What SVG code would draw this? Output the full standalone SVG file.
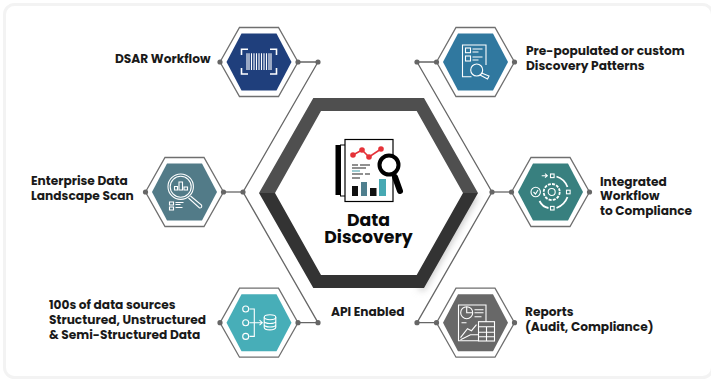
<svg xmlns="http://www.w3.org/2000/svg" width="711" height="379" viewBox="0 0 711 379">
<defs>
<filter id="soft" x="-20%" y="-20%" width="140%" height="140%"><feGaussianBlur stdDeviation="3.500"/></filter>
<polygon id="outer" points="-39,0 -19.500,-34.500 19.500,-34.500 39,0 19.500,34.500 -19.500,34.500"/>
<polygon id="inner" points="-32.500,0 -17.500,-28.500 17.500,-28.500 32.500,0 17.500,28.500 -17.500,28.500"/>
<g id="ends"><circle cx="-39" cy="0" r="2.600"/><circle cx="39" cy="0" r="2.600"/></g>
</defs>
<style>
text{font-family:"Poppins","Open Sans","Noto Sans",sans-serif;font-weight:700;font-size:12.2px;fill:#1a1a1a}
.o{fill:#fff;stroke:#6f6f6f;stroke-width:1.300}
.e{fill:#666}
.c{fill:none;stroke:#666;stroke-width:1.300}
.i{fill:none;stroke:#fff;stroke-width:1.100}
.t{font-size:17.300px;fill:#0a0a0a}
</style>
<rect x="0" y="0" width="711" height="379" fill="#fff"/>
<rect x="4.500" y="4.500" width="708" height="373" rx="10" fill="#fff" stroke="#f3f3f3" stroke-width="3"/>
<g id="connectors" class="c">
<path d="M298 62H318L243 192L318 322.700H298"/>
<path d="M223.500 192H243"/>
<path d="M436.500 62H417L492 192L417 322.700H436.500"/>
<path d="M492 192H511.500"/>
<g class="e" stroke="none"><circle cx="318" cy="62" r="2.600"/><circle cx="243" cy="192" r="2.600"/><circle cx="318" cy="322.700" r="2.600"/><circle cx="417" cy="62" r="2.600"/><circle cx="492" cy="192" r="2.600"/><circle cx="417" cy="322.700" r="2.600"/></g>
</g>
<g id="center">
<path fill="#bbb" filter="url(#soft)" d="M478 196L424 290H418L470 196Z"/>
<path fill="#4f4f4f" d="M259 193L313.300 98H424L478 193H463L416.700 111H321L275 193Z"/>
<path fill="#333" d="M259 193H275L321 275H416.700L463 193H478L424 288H313.300Z"/>
<rect x="335.500" y="145" width="5" height="50" fill="#000"/>
<rect x="340.500" y="145" width="5" height="51" fill="#fff" stroke="#000"/>
<rect x="345" y="139.500" width="48" height="62" fill="#fff" stroke="#000" stroke-width="1.200"/>
<path d="M353 155L362 150L369 157L381 149" fill="none" stroke="#e53238" stroke-width="1.600"/>
<g fill="#e53238"><circle cx="353" cy="155" r="2.800"/><circle cx="362" cy="150" r="2.800"/><circle cx="369" cy="157" r="2.800"/><circle cx="381" cy="149" r="2.800"/></g>
<path d="M352 165H358M360 165H370M352 168H366M352 174H363M365 174H370M352 178H360" stroke="#222" stroke-width="1.100" fill="none"/>
<path d="M352 171H360" stroke="#4aa3ad" stroke-width="1.100"/>
<rect x="352" y="186" width="6" height="10" fill="#111"/><rect x="361" y="182" width="6" height="14" fill="#4f7f8e"/><rect x="370" y="188" width="6.500" height="8" fill="#111"/><rect x="379" y="179" width="7" height="17" fill="#47a9b3"/>
<circle cx="389" cy="165" r="9.500" fill="#fff" stroke="#000" stroke-width="4"/>
<path d="M395 177L400 191" stroke="#000" stroke-width="6" stroke-linecap="round"/>
<text class="t" x="368.500" y="225.500" text-anchor="middle">Data</text>
<text class="t" x="368.500" y="242.500" text-anchor="middle">Discovery</text>
</g>
<g id="dsar">
<g transform="translate(259,62)">
<use href="#outer" class="o"/><use href="#inner" fill="#1f3f7c"/><use href="#ends" class="e"/>
<path class="i" style="stroke-width:1.600" d="M-17.500 -7V-12.700H-11M11 -12.700H17.500V-7M17.500 6V12H11M-11 12H-17.500V6"/>
<path class="i" d="M-12 -8.700V8M-10 -8.700V8M-7.500 -8.700V8M-5 -8.700V8M-2.500 -8.700V8M0 -8.700V8M2.500 -8.700V8M5 -8.700V8M7.500 -8.700V8M10 -8.700V8M12 -8.700V8"/>
</g>
<text x="115" y="63">DSAR Workflow</text>
</g>
<g id="enterprise">
<g transform="translate(184.500,192)">
<use href="#outer" class="o"/><use href="#inner" fill="#527b88"/><use href="#ends" class="e"/>
<circle class="i" cx="-3.800" cy="-5.300" r="12.700"/><circle class="i" cx="-3.800" cy="-5.300" r="10.500"/>
<path class="i" d="M-10 -2V-5.500H-7V-2ZM-5.500 -2V-10H-2V-2ZM-0.500 -2V-5H3V-2Z"/>
<path class="i" d="M6 4L17 13Q18 16 15 16L4 6"/>
<path class="i" d="M-15 10H-11V13H-15ZM-15 15H-11V18H-15ZM-9 10.500H-1M-9 12.500H-4M-9 15.500H-2"/>
</g>
<text x="31" y="185">Enterprise Data</text><text x="31" y="200">Landscape Scan</text>
</g>
<g id="sources">
<g transform="translate(259,322.700)">
<use href="#outer" class="o"/><use href="#inner" fill="#47aeb8"/><use href="#ends" class="e"/>
<circle class="i" cx="-13.300" cy="-13.700" r="3"/><circle class="i" cx="-13.300" cy="0" r="3"/><circle class="i" cx="-13.300" cy="13.700" r="3"/>
<path class="i" d="M-9.500 -13.700H-4.700V13.700H-9.500M-9.500 0H3M0.500 -2.500L3.300 0L0.500 2.500"/>
<ellipse class="i" cx="11" cy="-5.500" rx="5.800" ry="2.500"/><path class="i" d="M5.200 -5.500V4.500C5.200 8 16.800 8 16.800 4.500V-5.500M5.200 -1.500C5.200 1.500 16.800 1.500 16.800 -1.500M5.200 2C5.200 5 16.800 5 16.800 2"/>
</g>
<text x="49" y="309">100s of data sources</text><text x="49" y="324">Structured, Unstructured</text><text x="49" y="339">&amp; Semi-Structured Data</text>
</g>
<g id="api"><text x="331" y="316">API Enabled</text></g>
<g id="patterns">
<g transform="translate(475.500,62)">
<use href="#outer" class="o"/><use href="#inner" fill="#30789f"/><use href="#ends" class="e"/>
<path class="i" d="M-4 14.700H-13V-17H10.500V3"/>
<rect class="i" x="-10" y="-14" width="5" height="4.700"/><rect class="i" x="-10" y="-6" width="5" height="5"/>
<path class="i" d="M-3 -13H7M-3 -10H3M-3 -5H7M-3 -2H3"/>
<circle class="i" cx="1.200" cy="8" r="6"/><path class="i" d="M6 11L13.500 14L12 17L4.500 13"/>
</g>
<text x="526" y="55">Pre-populated or custom</text><text x="526" y="70">Discovery Patterns</text>
</g>
<g id="workflow">
<g transform="translate(550.500,192)">
<use href="#outer" class="o"/><use href="#inner" fill="#38807f"/><use href="#ends" class="e"/>
<circle class="i" cx="1.200" cy="0" r="3.500"/><circle class="i" cx="1.200" cy="0" r="8" stroke-dasharray="3 1.200" style="stroke-width:1.800"/>
<circle class="i" cx="-14.800" cy="0" r="4.700"/><path class="i" d="M-17 0L-15 2L-12.500 -2"/>
<path class="i" d="M-8.800 -16.300H-3.200M-5.500 -18.300L-3.200 -16.300L-5.500 -14.300"/>
<rect class="i" x="0" y="-18" width="3.600" height="3.600"/><rect class="i" x="16" y="-1.800" width="3.600" height="3.600"/><rect class="i" x="0" y="14.400" width="3.600" height="3.600"/>
<path class="i" style="stroke-width:1.800" d="M6 -15.500Q14 -13 17 -5M17 5Q14 13 6 16M-2 16Q-8 15 -11 9"/>
</g>
<text x="600" y="186">Integrated</text><text x="600" y="200">Workflow</text><text x="600" y="215">to Compliance</text>
</g>
<g id="reports">
<g transform="translate(475.500,322.700)">
<use href="#outer" class="o"/><use href="#inner" fill="#686868"/><use href="#ends" class="e"/>
<path class="i" d="M3 18H-17V-17.700H10.500V-1"/>
<circle class="i" cx="-8.800" cy="-10" r="6"/><path class="i" d="M-8.800 -16V-10H-2.800"/>
<path class="i" d="M-1 -13H8M-1 -10H8M-1 -6H6M-14 0H-9M-15 15L-8 6L-4 8L1 2M-15 17L-5 12H3"/>
<rect class="i" x="3" y="-1" width="16" height="19.300"/>
<path class="i" d="M3 4H19M3 9.500H19M3 14H19M11 4V18.300"/>
</g>
<text x="525" y="316">Reports</text><text x="525" y="331">(Audit, Compliance)</text>
</g>
</svg>
